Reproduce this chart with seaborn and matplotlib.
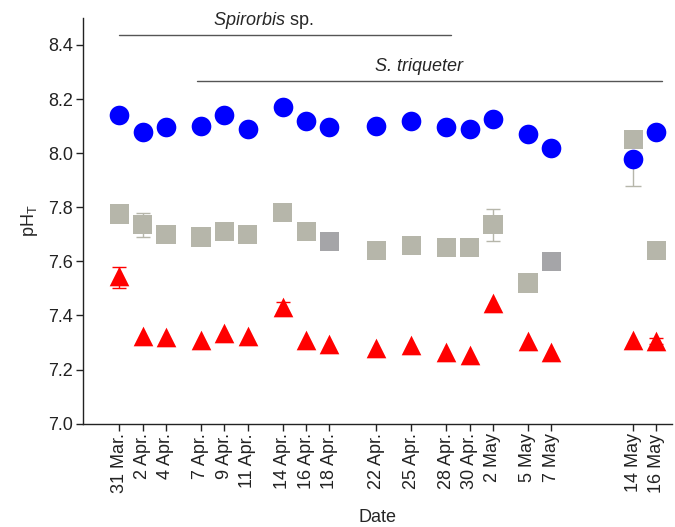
import numpy as np
import pandas as pd
import matplotlib
matplotlib.use("Agg")
import matplotlib.pyplot as plt
import seaborn as sns

# sampling days counted from 31 Mar.
days = [0, 2, 4, 7, 9, 11, 14, 16, 18, 22, 25, 28, 30, 32, 35, 37, 44, 46]
date_labels = ['31 Mar.', '2 Apr.', '4 Apr.', '7 Apr.', '9 Apr.', '11 Apr.', '14 Apr.',
               '16 Apr.', '18 Apr.', '22 Apr.', '25 Apr.', '28 Apr.', '30 Apr.',
               '2 May', '5 May', '7 May', '14 May', '16 May']

ph_high = [8.14, 8.08, 8.095, 8.10, 8.14, 8.09, 8.17, 8.12, 8.095, 8.10, 8.12, 8.095,
           8.09, 8.125, 8.07, 8.02, 7.98, 8.08]
ph_mid = [7.775, 7.735, 7.70, 7.69, 7.71, 7.70, 7.78, 7.71, 7.675, 7.64, 7.66, 7.65,
          7.65, 7.735, 7.52, 7.60, 8.05, 7.64]
ph_low = [7.545, 7.325, 7.32, 7.31, 7.335, 7.325, 7.43, 7.31, 7.295, 7.28, 7.29, 7.265,
          7.255, 7.445, 7.305, 7.265, 7.31, 7.305]

# error bars (day, mean, sd)
err_high = [(0, 8.14, 0.02)]
err_mid = [(2, 7.735, 0.045), (32, 7.735, 0.06), (37, 7.60, 0.02)]
err_low = [(0, 7.54, 0.04), (14, 7.43, 0.02), (46, 7.305, 0.01)]

# mid-level points drawn in darker grey
dark_mid_days = [18, 37]

sns.set_style("ticks")
plt.rcParams['font.family'] = ['Liberation Sans', 'DejaVu Sans']
plt.rcParams['mathtext.fontset'] = 'custom'
plt.rcParams['mathtext.rm'] = 'Liberation Sans'
plt.rcParams['mathtext.it'] = 'Liberation Sans:italic'

blue = '#0000ff'
red = '#ff0000'
grey = '#b6b6aa'
dark_grey = '#a5a5a8'

fig, ax = plt.subplots(figsize=(6.75, 5.27), dpi=100)
fig.subplots_adjust(left=0.123, right=0.995, top=0.966, bottom=0.196)

df = pd.DataFrame({'day': days, 'high': ph_high, 'mid': ph_mid, 'low': ph_low})
df['mid_col'] = ['dark' if d in dark_mid_days else 'light' for d in days]

for d, m, s in err_high:
    ax.errorbar(d, m, yerr=s, color=blue, capsize=5, lw=1, zorder=1)
for d, m, s in err_mid:
    ax.errorbar(d, m, yerr=s, color=grey, capsize=5, lw=1, zorder=1)
for d, m, s in err_low:
    ax.errorbar(d, m, yerr=s, color=red, capsize=5, lw=1, zorder=1)
# grey bar below the 14 May circle
ax.errorbar(44, 7.98, yerr=[[0.10], [0.0]], color=grey, capsize=6, lw=1, zorder=1)

sns.scatterplot(data=df, x='day', y='mid', hue='mid_col', palette={'light': grey, 'dark': dark_grey},
                marker='s', s=190, linewidth=0, legend=False, ax=ax, zorder=2)
sns.scatterplot(data=df, x='day', y='high', color=blue, marker='o', s=200, linewidth=0,
                legend=False, ax=ax, zorder=3)
sns.scatterplot(data=df, x='day', y='low', color=red, marker='^', s=200, linewidth=0,
                legend=False, ax=ax, zorder=3)

ax.set_xlim(-3.1, 47.3)
ax.set_ylim(7.0, 8.5)
yt = np.arange(7.0, 8.41, 0.2)
ax.set_yticks(yt)
ax.set_yticklabels([f'{v:.1f}' for v in yt], fontsize=13)
ax.set_xticks(days)
ax.set_xticklabels(date_labels, rotation=90, fontsize=13)
ax.tick_params(length=5, width=1, colors='#222222', pad=2)
ax.set_xlabel('Date', fontsize=13, labelpad=11)
ax.set_ylabel('pH$_\\mathregular{T}$', fontsize=13, labelpad=6)
sns.despine(ax=ax)
for sp in ['left', 'bottom']:
    ax.spines[sp].set_linewidth(1)
    ax.spines[sp].set_color('#222222')

# species bars
ax.plot([0, 28.4], [8.438, 8.438], color='#555555', lw=1, clip_on=False)
ax.text(12.3, 8.49, '$\\it{Spirorbis}$ sp.', ha='center', va='center', fontsize=13)
ax.plot([6.7, 46.5], [8.265, 8.265], color='#555555', lw=1, clip_on=False)
ax.text(25.7, 8.32, 'S. triqueter', ha='center', va='center', fontsize=13, style='italic')

fig.savefig('out.png', dpi=100)
